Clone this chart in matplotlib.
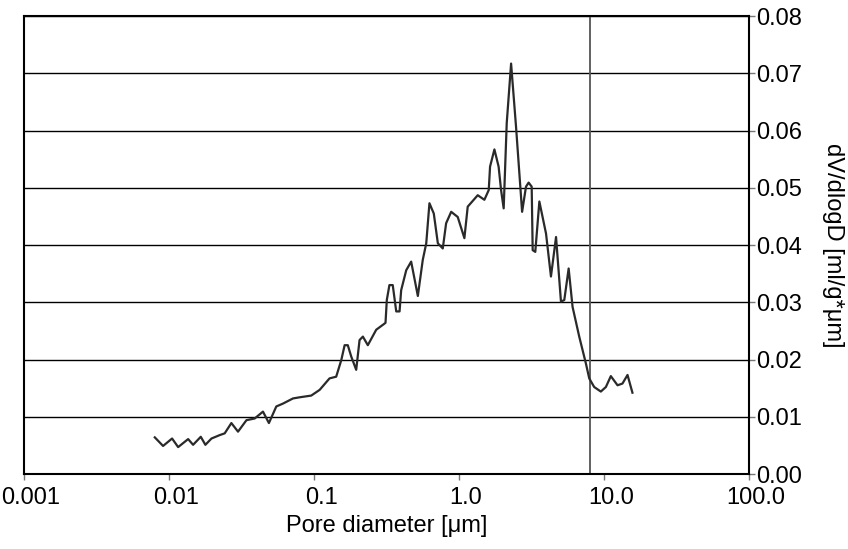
import matplotlib
matplotlib.use('Agg')
import matplotlib.pyplot as plt
import matplotlib.transforms as mtransforms
import numpy as np

# pore diameter (um) and dV/dlogD (ml/g*um)
diameter = [0.00798, 0.00910, 0.01050, 0.01156, 0.01355, 0.01466, 0.01656, 0.01782,
            0.01963, 0.02239, 0.02421, 0.02692, 0.02992, 0.03420, 0.03899, 0.04446,
            0.04887, 0.05495, 0.06109, 0.07161, 0.0796, 0.0957, 0.1094, 0.1279,
            0.1422, 0.1542, 0.1626, 0.1710, 0.1807, 0.1954, 0.2061, 0.2173,
            0.2350, 0.2685, 0.3112, 0.3177, 0.3311, 0.3491, 0.3690, 0.3890,
            0.3990, 0.4325, 0.4677, 0.5200, 0.5623, 0.5943, 0.6252, 0.6699,
            0.7145, 0.7727, 0.8147, 0.8831, 0.9795, 1.089, 1.148, 1.346,
            1.496, 1.603, 1.637, 1.754, 1.875, 1.950, 2.032, 2.133,
            2.286, 2.472, 2.723, 2.897, 3.020, 3.170, 3.221, 3.357,
            3.581, 3.981, 4.305, 4.667, 5.047, 5.321, 5.702, 6.067,
            6.745, 7.499, 7.907, 8.551, 9.506, 10.30, 11.14, 12.39,
            13.40, 14.52, 15.70]
dvdlogd = [0.0064, 0.0049, 0.0062, 0.0047, 0.0061, 0.0051, 0.0065, 0.0051,
           0.0062, 0.0068, 0.0071, 0.0089, 0.0074, 0.0094, 0.0097, 0.0109,
           0.0089, 0.0118, 0.0123, 0.0132, 0.0134, 0.0137, 0.0147, 0.0167,
           0.0170, 0.0199, 0.0225, 0.0225, 0.0205, 0.0182, 0.0234, 0.0240,
           0.0225, 0.0252, 0.0264, 0.0304, 0.0330, 0.0330, 0.0284, 0.0284,
           0.0321, 0.0356, 0.0371, 0.0311, 0.0374, 0.0403, 0.0473, 0.0455,
           0.0403, 0.0394, 0.0438, 0.0458, 0.0449, 0.0412, 0.0467, 0.0487,
           0.0479, 0.0496, 0.0537, 0.0567, 0.0537, 0.0496, 0.0464, 0.0613,
           0.0717, 0.0607, 0.0458, 0.0502, 0.0509, 0.0502, 0.0391, 0.0388,
           0.0476, 0.0420, 0.0345, 0.0414, 0.0301, 0.0304, 0.0359, 0.0292,
           0.0240, 0.0193, 0.0167, 0.0152, 0.0144, 0.0152, 0.0171, 0.0155,
           0.0158, 0.0173, 0.0142]

marker_line = 8.0
xticks = [0.001, 0.01, 0.1, 1.0, 10.0, 100.0]
xticklabels = ['0.001', '0.01', '0.1', '1.0', '10.0', '100.0']
yticks = [0.00, 0.01, 0.02, 0.03, 0.04, 0.05, 0.06, 0.07, 0.08]

plt.rcParams['font.family'] = ['Liberation Sans', 'DejaVu Sans']

fig = plt.figure(figsize=(8.48, 5.49), dpi=100)
ax = fig.add_axes([0.0283, 0.1366, 0.855, 0.8342])

for yv in yticks:
    ax.axhline(yv, color='black', lw=1.0, zorder=1)
ax.axvline(marker_line, color='#555555', lw=1.3, zorder=1)
ax.plot(diameter, dvdlogd, color='#2a2a2a', lw=1.6, zorder=3)

ax.set_xscale('log')
ax.set_xlim(0.001, 100)
ax.set_ylim(0, 0.08)
ax.set_xticks(xticks)
ax.set_xticklabels(xticklabels, fontsize=17)
ax.minorticks_off()
ax.set_yticks(yticks)
ax.set_yticklabels(['%.2f' % v for v in yticks], fontsize=17)
ax.yaxis.tick_right()
ax.yaxis.set_label_position('right')
ax.tick_params(axis='both', length=4, width=1, color='#777777')
ax.tick_params(axis='x', pad=5)
ax.tick_params(axis='y', pad=1)

# x labels sit a little right of their ticks in the original
shift = mtransforms.ScaledTranslation(7 / 100, 0, fig.dpi_scale_trans)
for lab in ax.get_xticklabels():
    lab.set_transform(lab.get_transform() + shift)

for sp in ax.spines.values():
    sp.set_linewidth(1.5)
    sp.set_color('black')

ax.set_xlabel('Pore diameter [\u03bcm]', fontsize=17, labelpad=5)
ax.set_ylabel('dV/dlogD [ml/g*\u03bcm]', fontsize=17, rotation=270, labelpad=30)

fig.savefig('out.png', dpi=100)
